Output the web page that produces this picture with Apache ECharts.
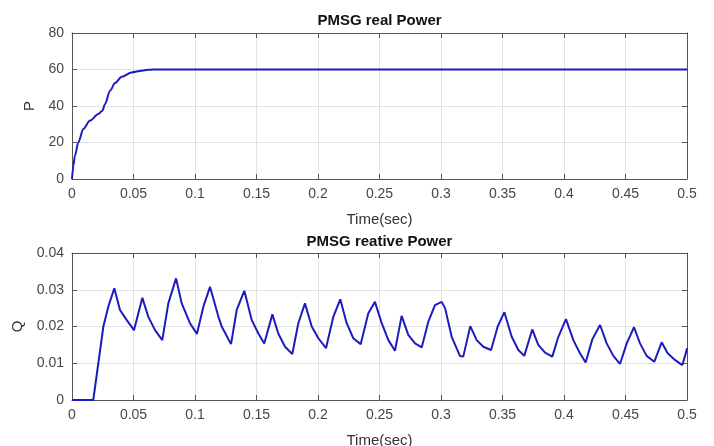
<!DOCTYPE html>
<html>
<head>
<meta charset="utf-8">
<script src="https://cdn.jsdelivr.net/npm/echarts@6/dist/echarts.min.js"></script>
<style>
html,body{margin:0;padding:0;background:#fff;}
#c{width:714px;height:446px;}
</style>
</head>
<body>
<div id="c"></div>
<script>
// ---- data ----
const pTime = [0, 0.0011, 0.0024, 0.0051, 0.0092, 0.0146, 0.0214, 0.0247, 0.0268, 0.0309, 0.035, 0.0404, 0.0485, 0.0567, 0.062, 0.066, 0.1, 0.2, 0.3, 0.4, 0.5];
const pValues = [0, 7.3, 12.8, 20, 27.4, 32, 35.6, 37.4, 41, 48.4, 52.6, 56, 58.4, 59.3, 59.8, 60, 60, 60, 60, 60, 60];

const qTime = [0, 0.0173, 0.0214, 0.0255, 0.0295, 0.0344, 0.039, 0.0444, 0.0504, 0.0572, 0.062, 0.0675, 0.0734, 0.0783, 0.0846, 0.0892, 0.0959, 0.1016, 0.1068, 0.1122, 0.119, 0.1217, 0.1293, 0.1339, 0.1401, 0.1461, 0.1515, 0.1563, 0.1629, 0.1677, 0.1732, 0.1791, 0.184, 0.1894, 0.1949, 0.2003, 0.2065, 0.2125, 0.2181, 0.2233, 0.2287, 0.2347, 0.2409, 0.2463, 0.2518, 0.2572, 0.2626, 0.268, 0.2734, 0.2789, 0.2843, 0.2897, 0.2951, 0.3006, 0.3033, 0.3087, 0.3154, 0.3181, 0.3238, 0.329, 0.3344, 0.3407, 0.3461, 0.3515, 0.3575, 0.3629, 0.3677, 0.3742, 0.3791, 0.3846, 0.3905, 0.3954, 0.4016, 0.4076, 0.413, 0.4176, 0.423, 0.4293, 0.4347, 0.4401, 0.4455, 0.451, 0.4569, 0.4618, 0.4672, 0.4734, 0.4794, 0.4843, 0.4902, 0.4962, 0.4984, 0.5];
const qValues = [0, 0, 0.010, 0.020, 0.0254, 0.0304, 0.0245, 0.0218, 0.019, 0.0278, 0.0227, 0.019, 0.0163, 0.0263, 0.0331, 0.0263, 0.0209, 0.018, 0.0254, 0.0308, 0.0227, 0.020, 0.0152, 0.0245, 0.0297, 0.0218, 0.0181, 0.0154, 0.0233, 0.0181, 0.0145, 0.0125, 0.0209, 0.0263, 0.020, 0.0168, 0.0141, 0.0227, 0.0274, 0.0209, 0.0168, 0.0152, 0.0236, 0.0267, 0.0209, 0.0163, 0.0134, 0.0229, 0.0177, 0.0154, 0.0143, 0.0213, 0.0258, 0.0267, 0.025, 0.0172, 0.012, 0.0118, 0.0201, 0.0163, 0.0145, 0.0136, 0.020, 0.0239, 0.0172, 0.0136, 0.012, 0.0192, 0.015, 0.0129, 0.0118, 0.0172, 0.022, 0.0163, 0.0127, 0.0102, 0.0165, 0.0204, 0.0154, 0.012, 0.0098, 0.0154, 0.0198, 0.0154, 0.012, 0.0104, 0.0157, 0.0127, 0.0109, 0.0095, 0.012, 0.0141];

const xTickLabels = ['0', '0.05', '0.1', '0.15', '0.2', '0.25', '0.3', '0.35', '0.4', '0.45', '0.5'];
const pTickLabels = ['0', '20', '40', '60', '80'];
const qTickLabels = ['0', '0.01', '0.02', '0.03', '0.04'];

const titles = ['PMSG real Power', 'PMSG reative Power'];
const xName = 'Time(sec)';
const yNames = ['P', 'Q'];

// ---- styling ----
const FONT = 'Liberation Sans, Arial, Helvetica, sans-serif';
const AX = '#555555';
const LBL = '#474747';
const LINE = '#1c1cbe';

function idxLabel(labels, min, step) {
  return v => {
    const i = Math.round((v - min) / step);
    return labels[i] !== undefined ? labels[i] : '';
  };
}

function bottomX(gi) {
  return {
    type: 'value', gridIndex: gi, position: 'bottom', min: 0, max: 0.5, interval: 0.05,
    name: xName, nameLocation: 'middle', nameGap: 33,
    nameTextStyle: { fontFamily: FONT, fontSize: 15, color: '#333' },
    axisLine: { show: true, onZero: false, lineStyle: { color: AX, width: 1 } },
    axisTick: { show: true, inside: true, length: 5, lineStyle: { color: AX } },
    axisLabel: { margin: 8, fontFamily: FONT, fontSize: 14, color: LBL, formatter: idxLabel(xTickLabels, 0, 0.05) },
    splitLine: { show: true, lineStyle: { color: '#e2e2e2', width: 1 } }
  };
}
function topX(gi, title, gap) {
  return {
    type: 'value', gridIndex: gi, position: 'top', min: 0, max: 0.5, interval: 0.05,
    name: title, nameLocation: 'middle', nameGap: gap,
    nameTextStyle: { fontFamily: FONT, fontSize: 15, fontWeight: 'bold', color: '#111' },
    axisLine: { show: true, onZero: false, lineStyle: { color: AX, width: 1 } },
    axisTick: { show: true, inside: true, length: 5, lineStyle: { color: AX } },
    axisLabel: { show: false },
    splitLine: { show: false }
  };
}
function leftY(gi, max, interval, labels, name, gap) {
  return {
    type: 'value', gridIndex: gi, position: 'left', min: 0, max: max, interval: interval,
    name: name, nameLocation: 'middle', nameGap: gap,
    nameTextStyle: { fontFamily: FONT, fontSize: 15, color: '#333' },
    axisLine: { show: true, onZero: false, lineStyle: { color: AX, width: 1 } },
    axisTick: { show: true, inside: true, length: 5, lineStyle: { color: AX } },
    axisLabel: { margin: 8, fontFamily: FONT, fontSize: 14, color: LBL, formatter: idxLabel(labels, 0, interval) },
    splitLine: { show: true, lineStyle: { color: '#e2e2e2', width: 1 } }
  };
}
function rightY(gi, max, interval) {
  return {
    type: 'value', gridIndex: gi, position: 'right', min: 0, max: max, interval: interval,
    axisLine: { show: true, onZero: false, lineStyle: { color: AX, width: 1 } },
    axisTick: { show: true, inside: true, length: 5, lineStyle: { color: AX } },
    axisLabel: { show: false },
    splitLine: { show: false }
  };
}

const chart = echarts.init(document.getElementById('c'), null, { renderer: 'canvas' });
chart.setOption({
  backgroundColor: '#ffffff',
  animation: false,
  grid: [
    { left: 72, right: 27, top: 33, height: 146, containLabel: false, outerBoundsMode: 'none' },
    { left: 72, right: 27, top: 253, height: 147, containLabel: false, outerBoundsMode: 'none' }
  ],
  xAxis: [bottomX(0), topX(0, titles[0], 5), bottomX(1), topX(1, titles[1], 4)],
  yAxis: [
    leftY(0, 80, 20, pTickLabels, yNames[0], 33), rightY(0, 80, 20),
    leftY(1, 0.04, 0.01, qTickLabels, yNames[1], 47), rightY(1, 0.04, 0.01)
  ],
  series: [
    {
      type: 'line', xAxisIndex: 0, yAxisIndex: 0, showSymbol: false,
      smooth: 0.3, smoothMonotone: 'x',
      lineStyle: { color: LINE, width: 2 },
      data: pTime.map((t, i) => [t, pValues[i]])
    },
    {
      type: 'line', xAxisIndex: 2, yAxisIndex: 2, showSymbol: false,
      lineStyle: { color: LINE, width: 2 },
      data: qTime.map((t, i) => [t, qValues[i]])
    }
  ]
});
</script>
</body>
</html>
